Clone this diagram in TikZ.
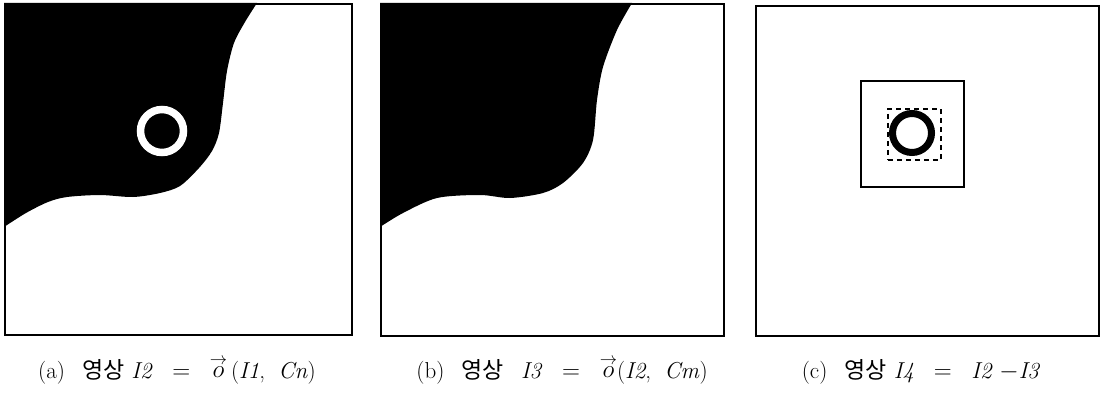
\documentclass[tikz,border=0pt]{standalone}
\usepackage{fontspec}
\newfontfamily\kr{Noto Sans CJK KR}
\begin{document}
\begin{tikzpicture}[x=1pt,y=-1pt,
  panel/.style={draw, line width=2pt, inner sep=0pt, anchor=north west},
  innerbox/.style={draw, line width=1.8pt, inner sep=0pt, anchor=north west},
  dbox/.style={draw, dash pattern=on 5pt off 4pt, line width=1.6pt, inner sep=0pt, anchor=north west},
  captext/.style={font=\fontsize{23}{27}\selectfont, anchor=base, inner sep=0pt}]
\useasboundingbox (0,0) rectangle (1103,393);
\fill[white] (0,0) rectangle (1103,393);
% panel (a) black region
\begin{scope}[shift={(4,3)}]
\fill[black] plot[smooth, tension=0.5] coordinates {(253,0) (241,19) (230,40) (223,68) (219,100) (215,130) (208,148) (195,165) (176,183) (156,190) (129,194) (96,192) (63,194) (44,199) (22,210) (0,224)} -- (0,0) -- cycle;
\end{scope}
\draw[white, line width=7.5pt] (162,131) circle (21.5);
% panel (b) black region
\begin{scope}[shift={(380,3)}]
\fill[black] plot[smooth, tension=0.5] coordinates {(252,0) (237,27) (223,64) (217,97) (213,137) (203,160) (183,180) (163,190) (130,195) (100,192) (57,195) (23,210) (0,224)} -- (0,0) -- cycle;
\end{scope}
% panels
\node[panel, minimum width=347pt, minimum height=331pt] (pa) at (4,3) {};
\node[panel, minimum width=343pt, minimum height=332pt] (pb) at (380,3) {};
\node[panel, minimum width=343pt, minimum height=330pt] (pc) at (755,5) {};
% panel (c) contents
\node[innerbox, minimum width=103pt, minimum height=106pt] (sq) at (860,80) {};
\draw[black, line width=7pt] (912,133) circle (19.5);
\node[dbox, minimum width=53pt, minimum height=51pt] (db) at (887,108) {};
% captions
\node[captext] (ca) at (177,378) {(a)\;\, {\kr 영상} \textit{I2} \;\;$=$\;\; $\stackrel{\rightarrow}{o}$\,(\textit{I1}, \;\textit{Cn})};
\node[captext] (cb) at (562,378) {(b)\;\, {\kr 영상}\;\, \textit{I3} \;\;$=$\;\; $\stackrel{\rightarrow}{o}$(\textit{I2}, \;\textit{Cm})};
\node[captext] (cc) at (921,378) {(c)\;\, {\kr 영상} \textit{I4} \;\;$=$\;\; \textit{I2} $-$\textit{I3}};
\end{tikzpicture}
\end{document}
